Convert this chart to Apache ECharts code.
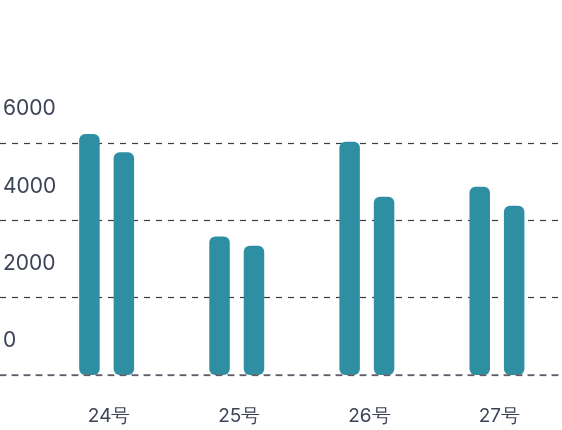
<!DOCTYPE html>
<html><head><meta charset="utf-8">
<script src="https://cdn.jsdelivr.net/npm/echarts@6/dist/echarts.min.js"></script>
<style>html,body{margin:0;padding:0;background:#fff}#c{width:562px;height:430px}</style>
</head><body><div id="c"></div>
<script>
var categories = ['24号', '25号', '26号', '27号'];
var seriesA = [6230, 3580, 6030, 4870];
var seriesB = [5760, 3340, 4610, 4380];
var yTicks = [0, 2000, 4000, 6000];

var chart = echarts.init(document.getElementById('c'));
var textColor = '#3d4357';
var font = 'Inter';
var yMin = yTicks[0], yMax = yTicks[yTicks.length - 1];
chart.setOption({
  animation: false,
  grid: [
    {left: 0, right: 0, top: 143, bottom: 55},
    {left: 41.6, width: 527, top: 143, bottom: 55},
    {left: 0, right: 0, top: 109, bottom: 89}
  ],
  xAxis: [
    {gridIndex: 0, type: 'category', data: categories, z: 10,
     axisLine: {show: true, lineStyle: {color: '#6a6b75', type: [6, 6], width: 1.5}},
     axisTick: {show: false}, axisLabel: {show: false}},
    {gridIndex: 1, type: 'category', data: categories,
     axisLine: {show: false},
     axisTick: {show: false},
     axisLabel: {color: textColor, fontSize: 19, fontFamily: font, margin: 32, padding: [0, 0, 0, 5]}},
    {gridIndex: 2, type: 'category', data: categories, show: false}
  ],
  yAxis: [
    {gridIndex: 0, type: 'value', min: yMin, max: yMax, interval: 2000,
     axisLine: {show: false}, axisTick: {show: false}, axisLabel: {show: false},
     splitLine: {show: true, lineStyle: {color: '#3a3a44', type: [6, 6], width: 1.2}}},
    {gridIndex: 1, type: 'value', min: yMin, max: yMax, interval: 2000, show: false},
    {gridIndex: 2, type: 'value', min: yMin, max: yMax, interval: 2000,
     axisLine: {show: false}, axisTick: {show: false}, splitLine: {show: false},
     axisLabel: {inside: true, margin: 0, align: 'left', verticalAlign: 'middle',
                 color: textColor, fontSize: 21, fontFamily: font,
                 formatter: function (v) { return String(v); }}}
  ],
  series: [
    {type: 'bar', xAxisIndex: 1, yAxisIndex: 1, data: seriesA, barWidth: 20.5, barGap: '68%', clip: false,
     itemStyle: {color: '#2e8fa3', borderRadius: 6}},
    {type: 'bar', xAxisIndex: 1, yAxisIndex: 1, data: seriesB, barWidth: 20.5, barGap: '68%', clip: false,
     itemStyle: {color: '#2e8fa3', borderRadius: 6}},
    {type: 'line', xAxisIndex: 0, yAxisIndex: 0, data: [], silent: true},
    {type: 'line', xAxisIndex: 2, yAxisIndex: 2, data: [], silent: true}
  ]
});
</script>
</body></html>
